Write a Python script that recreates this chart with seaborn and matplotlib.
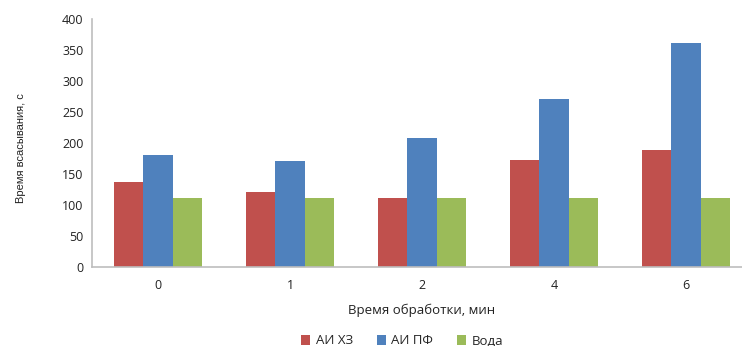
import matplotlib
matplotlib.use("Agg")
import matplotlib.pyplot as plt
import seaborn as sns
import pandas as pd

# Processing time categories (min) and absorption times (s) for each liquid
times = ["0", "1", "2", "4", "6"]
ai_hz = [137, 120, 111, 173, 189]
ai_pf = [181, 171, 208, 271, 362]
voda = [111, 111, 111, 111, 111]
series_names = ["АИ ХЗ", "АИ ПФ", "Вода"]
colors = ["#C0504D", "#4F81BD", "#9BBB59"]
y_ticks = [0, 50, 100, 150, 200, 250, 300, 350, 400]

df = pd.DataFrame({
    "time": times * 3,
    "value": ai_hz + ai_pf + voda,
    "series": [series_names[0]] * 5 + [series_names[1]] * 5 + [series_names[2]] * 5,
})

sns.set_theme(style="white")
plt.rcParams["font.family"] = ["Open Sans", "DejaVu Sans"]

fig = plt.figure(figsize=(7.42, 3.46), dpi=100)
ax = fig.add_axes([92 / 742, 79.3 / 346, 660 / 742, 247.4 / 346])

sns.barplot(data=df, x="time", y="value", hue="series", order=times,
            hue_order=series_names, palette=colors, width=0.67, gap=0,
            saturation=1, linewidth=0, ax=ax, legend=True)

ax.set_xlim(-0.5, 4.5)
ax.set_ylim(0, 400)
ax.set_yticks(y_ticks)
ax.tick_params(axis="both", labelsize=9, colors="#222222", length=0, pad=6)
ax.tick_params(axis="x", pad=9)

for side in ["top", "right"]:
    ax.spines[side].set_visible(False)
for side in ["left", "bottom"]:
    ax.spines[side].set_color("#BDBDBD")
    ax.spines[side].set_linewidth(1.2)

ax.set_ylabel("Время всасывания, с", fontsize=8, color="#222222",
              family=["Liberation Sans", "DejaVu Sans"])
ax.set_xlabel("Время обработки, мин", fontsize=9.5, color="#222222", labelpad=8)
ax.yaxis.set_label_coords(-66 / 660, 0.48)

handles, labels = ax.get_legend_handles_labels()
ax.legend(handles, labels, loc="center", bbox_to_anchor=(402 / 742, 5 / 346),
          bbox_transform=fig.transFigure, ncol=3, frameon=False, fontsize=9.5,
          handlelength=0.7, handleheight=0.7, handletextpad=0.4, columnspacing=1.8)

fig.savefig("out.png", dpi=100)
